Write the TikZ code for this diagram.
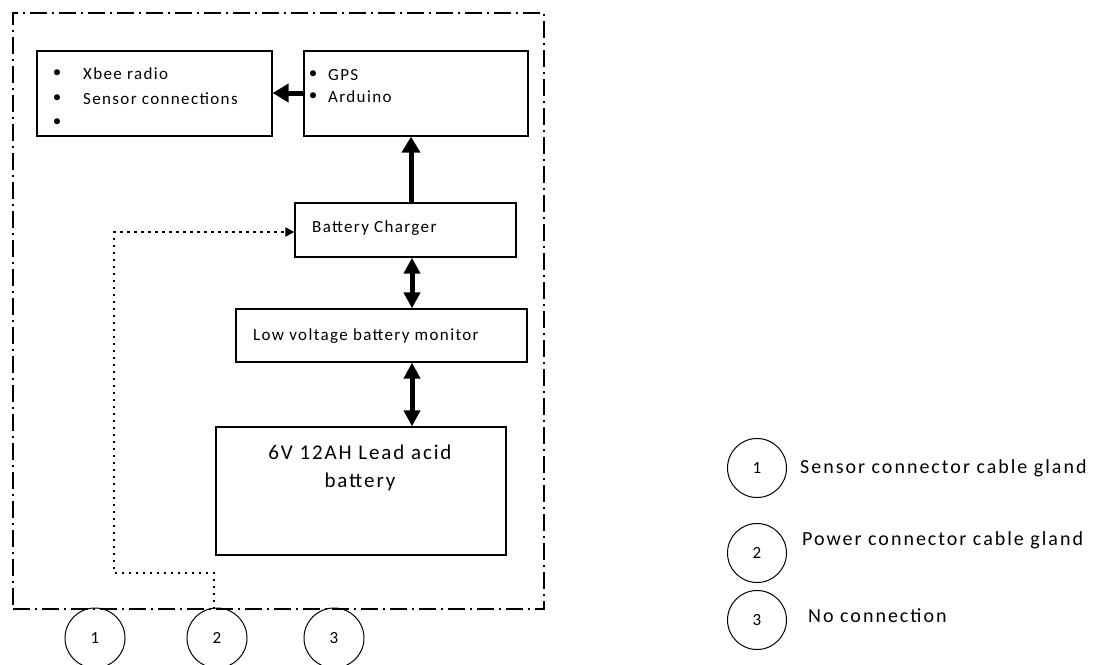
\documentclass[tikz,border=0pt]{standalone}
\usepackage{fontspec}
\setmainfont{Carlito}
\newfontfamily\boxfont[LetterSpace=8]{Carlito}
\newfontfamily\legfont[LetterSpace=10]{Carlito}
\newfontfamily\batfont[LetterSpace=9]{Carlito}
\usetikzlibrary{arrows.meta}
\begin{document}
\begin{tikzpicture}[x=1pt,y=-1pt,
  box/.style={draw,line width=1.3pt,inner sep=0pt},
  small/.style={font=\boxfont\fontsize{17}{20}\selectfont,inner sep=0pt,anchor=base west},
  bul/.style={font=\fontsize{17}{20}\selectfont,inner sep=0pt,anchor=center},
  legend/.style={font=\legfont\fontsize{20}{24}\selectfont,inner sep=0pt,anchor=base west},
  big/.style={font=\batfont\fontsize{21}{28}\selectfont,inner sep=0pt,anchor=base},
  onearrow/.style={line width=5pt,-{Triangle[length=16pt,width=18pt]}},
  dblarrow/.style={line width=5pt,{Triangle[length=16pt,width=16pt]}-{Triangle[length=16pt,width=16pt]}},
  gland/.style={draw,circle,line width=1pt,minimum size=59pt,inner sep=0pt,font=\fontsize{17}{19}\selectfont},
  enclosure/.style={draw,line width=1.8pt,dash pattern=on 17pt off 5pt on 2pt off 5pt,inner sep=0pt},
  dotline/.style={line width=2.5pt,dash pattern=on 2.5pt off 4.5pt}]
\useasboundingbox (0,0) rectangle (1099,664);
% enclosure
\node[enclosure,minimum width=531pt,minimum height=596pt] (encl) at (278.5,311) {};
% boxes
\node[box,minimum width=235pt,minimum height=85pt] (xbee) at (154.5,93.5) {};
\node[box,minimum width=224pt,minimum height=85pt] (gps) at (416,93.5) {};
\node[box,minimum width=221pt,minimum height=54pt] (charger) at (405.5,230) {};
\node[box,minimum width=291pt,minimum height=53pt] (monitor) at (381.5,335.5) {};
\node[box,minimum width=290pt,minimum height=128pt] (battery) at (361,491) {};
% texts
\node[bul] (b1) at (57,74) {•};
\node[small] (t1) at (83,79) {Xbee radio};
\node[bul] (b2) at (57,99) {•};
\node[small] (t2) at (83,104) {Sensor connections};
\node[bul] (b3) at (57,123) {•};
\node[bul] (b4) at (313,75) {•};
\node[small] (t4) at (328,80) {GPS};
\node[bul] (b5) at (313,97) {•};
\node[small] (t5) at (328,102) {Arduino};
\node[small] (tc) at (312,232) {Battery Charger};
\node[small] (tm) at (253,340) {Low voltage battery monitor};
\node[big] (tb1) at (360,459) {6V 12AH Lead acid};
\node[big] (tb2) at (360,487) {battery};
% arrows
\draw[onearrow] (gps.west |- 0,93) -- (xbee.east |- 0,93);
\draw[onearrow] (charger.north -| 411,0) -- (gps.south -| 411,0);
\draw[dblarrow] (charger.south -| 412,0) -- (monitor.north -| 412,0);
\draw[dblarrow] (monitor.south -| 412,0) -- (battery.north -| 412,0);
% glands
\node[gland,minimum size=60pt] (g1) at (95,638) {1};
\node[gland,minimum size=60pt] (g2) at (217,638) {2};
\node[gland,minimum size=60pt] (g3) at (334,638) {3};
% dotted power line
\coordinate (entry) at (214,609);
\draw[dotline,-{Triangle[length=9pt,width=9pt]}] (entry) -- (214,573) -- (114,573) -- (114,232) -- (charger.west |- 0,232);
% legend
\node[gland] (l1) at (757,468) {1};
\node[gland] (l2) at (757,553) {2};
\node[gland] (l3) at (757,620) {3};
\node[legend] (lt1) at (800,473) {Sensor connector cable gland};
\node[legend] (lt2) at (802,545) {Power connector cable gland};
\node[legend] (lt3) at (808,622) {No connection};
\end{tikzpicture}
\end{document}
